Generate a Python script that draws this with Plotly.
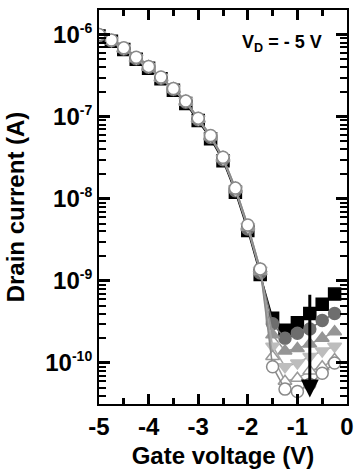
import plotly.graph_objects as go

gate_v = [-5.0, -4.75, -4.5, -4.25, -4.0, -3.75, -3.5, -3.25, -3.0, -2.75,
          -2.5, -2.25, -2.0, -1.75, -1.5, -1.25, -1.0, -0.75, -0.5, -0.25]

i_black = [9.6e-7, 8.3e-7, 6.6e-7, 5.0e-7, 3.9e-7, 2.9e-7, 2.1e-7, 1.45e-7, 9.0e-8, 5.4e-8,
           2.9e-8, 1.2e-8, 4.1e-9, 1.2e-9, 3.5e-10, 2.5e-10, 3.1e-10, 4.0e-10, 5.2e-10, 6.9e-10]
i_dgray = [9.7e-7, 8.4e-7, 6.7e-7, 5.1e-7, 4.0e-7, 2.95e-7, 2.15e-7, 1.5e-7, 9.2e-8, 5.6e-8,
           3.0e-8, 1.25e-8, 4.3e-9, 1.25e-9, 3.0e-10, 2.0e-10, 2.3e-10, 2.6e-10, 3.3e-10, 4.0e-10]
i_gray = [9.8e-7, 8.4e-7, 6.7e-7, 5.1e-7, 4.0e-7, 2.95e-7, 2.15e-7, 1.5e-7, 9.3e-8, 5.7e-8,
          3.1e-8, 1.3e-8, 4.5e-9, 1.3e-9, 2.2e-10, 1.4e-10, 1.5e-10, 1.7e-10, 2.0e-10, 2.4e-10]
i_lgray = [9.9e-7, 8.5e-7, 6.8e-7, 5.2e-7, 4.1e-7, 3.0e-7, 2.2e-7, 1.55e-7, 9.4e-8, 5.8e-8,
           3.1e-8, 1.3e-8, 4.6e-9, 1.35e-9, 1.6e-10, 9.0e-11, 1.0e-10, 1.2e-10, 1.4e-10, 1.6e-10]
i_white = [1.0e-6, 8.5e-7, 6.8e-7, 5.2e-7, 4.1e-7, 3.0e-7, 2.2e-7, 1.55e-7, 9.5e-8, 5.8e-8,
           3.2e-8, 1.35e-8, 4.7e-9, 1.4e-9, 1.2e-10, 6.0e-11, 6.5e-11, 8.0e-11, 9.0e-11, 1.1e-10]
i_open = [1.0e-6, 8.6e-7, 6.9e-7, 5.3e-7, 4.1e-7, 3.05e-7, 2.2e-7, 1.55e-7, 9.6e-8, 5.9e-8,
          3.2e-8, 1.35e-8, 4.8e-9, 1.4e-9, 9.0e-11, 4.8e-11, 4.5e-11, 5.5e-11, 7.5e-11, 1.0e-10]

y_tick_vals = [1e-10, 1e-9, 1e-8, 1e-7, 1e-6]
y_tick_exps = ["-10", "-9", "-8", "-7", "-6"]
x_tick_vals = [-5, -4, -3, -2, -1, 0]
x_tick_text = ["-5", "-4", "-3", "-2", "-1", "0"]

y_tick_text = ["10<sup><span style='font-size:14px'>%s</span></sup>" % e for e in y_tick_exps]
y_minor_vals = [m * 10.0 ** p for p in range(-11, -5) for m in range(2, 10)]
x_minor_vals = [-4.5, -3.5, -2.5, -1.5, -0.5]

series = [
    (i_black, "square", "#000000", "#000000", "#000000"),
    (i_dgray, "circle", "#6e6e6e", "#6e6e6e", "#6e6e6e"),
    (i_gray, "triangle-up", "#959595", "#959595", "#959595"),
    (i_lgray, "triangle-down", "#bdbdbd", "#bdbdbd", "#a8a8a8"),
    (i_white, "triangle-up", "#ffffff", "#9a9a9a", "#a0a0a0"),
    (i_open, "circle", "#ffffff", "#8a8a8a", "#8a8a8a"),
]

fig = go.Figure()
# invisible copies of one series so the minor-tick overlay axes are drawn
fig.add_trace(go.Scatter(x=gate_v, y=i_open, yaxis="y2", mode="markers",
                         marker=dict(opacity=0), showlegend=False, hoverinfo="skip"))
fig.add_trace(go.Scatter(x=gate_v, y=i_open, xaxis="x2", mode="markers",
                         marker=dict(opacity=0), showlegend=False, hoverinfo="skip"))
for vals, sym, fill, edge, lcol in series:
    fig.add_trace(go.Scatter(
        x=gate_v, y=vals, mode="lines+markers",
        line=dict(color=lcol, width=1.5),
        marker=dict(symbol=sym, size=12, color=fill, line=dict(color=edge, width=1.5)),
        showlegend=False,
    ))

fig.add_annotation(
    x=-0.75, y=-10.42, ax=-0.75, ay=-9.15,
    xref="x", yref="y", axref="x", ayref="y",
    showarrow=True, arrowhead=2, arrowsize=1.2, arrowwidth=3, arrowcolor="#000000", text="",
)
fig.add_annotation(
    x=0.906, y=0.914, xref="paper", yref="paper", xanchor="right", yanchor="middle",
    text="V<sub>D</sub> = - 5 V", showarrow=False,
    font=dict(family="Liberation Sans", size=18, color="#000000", weight="bold"),
)

axis_font = dict(family="Liberation Sans", size=24, color="#000000", weight="bold")
fig.update_layout(
    width=362, height=476,
    margin=dict(l=99, r=8, t=8, b=72),
    paper_bgcolor="white", plot_bgcolor="white",
    xaxis=dict(
        range=[-5, 0], tickmode="array", tickvals=x_tick_vals, ticktext=x_tick_text,
        ticks="inside", ticklen=10, tickwidth=2.5, tickcolor="black",
        showline=True, linecolor="black", linewidth=2, mirror="ticks",
        showgrid=False, zeroline=False, tickfont=axis_font,
        title=dict(text="Gate voltage (V)", font=axis_font, standoff=8),
    ),
    xaxis2=dict(
        range=[-5, 0], overlaying="x", side="bottom", anchor="y",
        tickmode="array", tickvals=x_minor_vals, showticklabels=False,
        ticks="inside", ticklen=6, tickwidth=2.5, tickcolor="black",
        showline=True, linecolor="black", linewidth=2, mirror="ticks",
        showgrid=False, zeroline=False,
    ),
    yaxis=dict(
        type="log", range=[-10.5, -5.7], tickmode="array",
        tickvals=y_tick_vals, ticktext=y_tick_text,
        ticks="inside", ticklen=11, tickwidth=2.5, tickcolor="black",
        showline=True, linecolor="black", linewidth=2, mirror="ticks",
        showgrid=False, zeroline=False, tickfont=axis_font,
        title=dict(text="Drain current (A)", font=axis_font, standoff=14),
    ),
    yaxis2=dict(
        type="log", range=[-10.5, -5.7], overlaying="y", side="right", anchor="x",
        tickmode="array", tickvals=y_minor_vals, showticklabels=False,
        ticks="inside", ticklen=7, tickwidth=2, tickcolor="black",
        showline=True, linecolor="black", linewidth=2, mirror="ticks",
        showgrid=False, zeroline=False,
    ),
)

fig.write_html("out.html")
